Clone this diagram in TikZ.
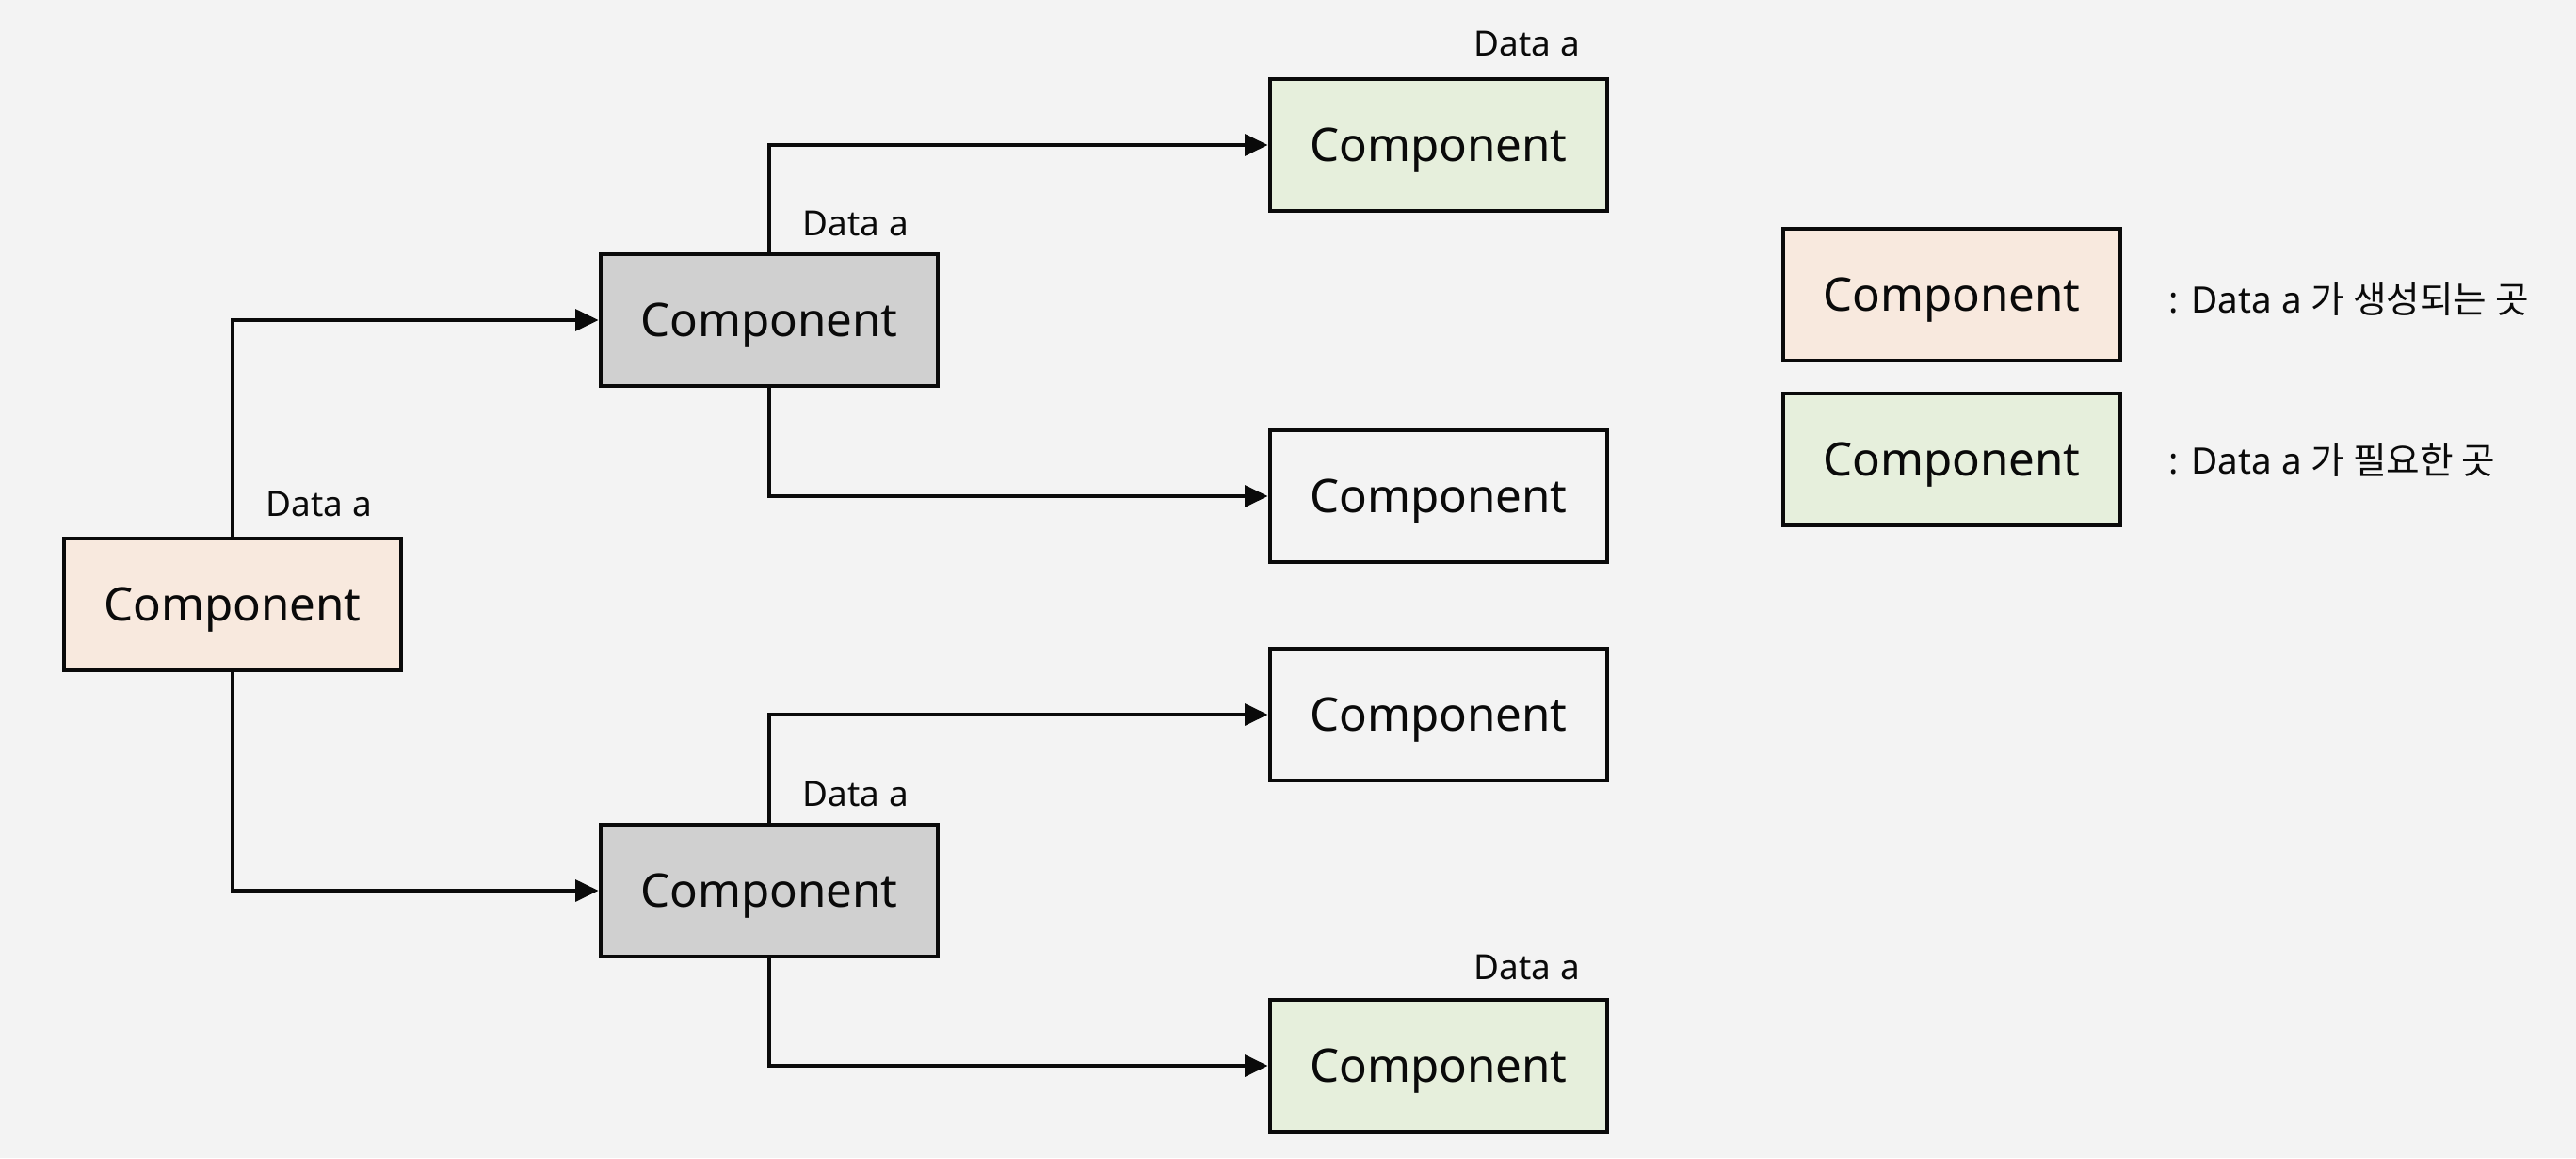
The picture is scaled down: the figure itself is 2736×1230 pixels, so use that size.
\documentclass[tikz,border=0pt]{standalone}
\usepackage{fontspec}
\setmainfont{Noto Sans}
\newfontfamily\krfont{Noto Sans CJK KR}
\usetikzlibrary{arrows.meta}
\definecolor{bgc}{HTML}{F3F3F3}
\definecolor{peach}{HTML}{F8E9DE}
\definecolor{leaf}{HTML}{E6EFDC}
\definecolor{greybox}{HTML}{D0D0D0}
\definecolor{ink}{HTML}{0A0A0A}
\tikzset{
  comp/.style={draw=ink, line width=1.3pt, minimum width=3.58cm, minimum height=1.40cm,
    inner sep=0pt, text height=10pt, text depth=0pt,
    font=\fontsize{14}{16}\selectfont, text=ink},
  source/.style={comp, fill=peach},
  target/.style={comp, fill=leaf},
  relay/.style={comp, fill=greybox},
  plain/.style={comp, fill=bgc},
  datalbl/.style={anchor=base west, inner sep=0pt, font=\fontsize{10.5}{12}\selectfont, text=ink},
  legendlbl/.style={anchor=base west, inner sep=0pt, font=\fontsize{11}{13}\selectfont, text=ink},
  flow/.style={draw=ink, line width=1.1pt, -{Triangle[length=7pt,width=6.5pt]}},
}
\begin{document}
\begin{tikzpicture}[x=0.01cm,y=-0.01cm]
\fill[bgc] (0,0) rectangle (2736,1230);
\useasboundingbox (0,0) rectangle (2736,1230);

% nodes
\node[source] (root) at (247,642) {Component};
\node[relay]  (g1)   at (817,340) {Component};
\node[relay]  (g2)   at (817,946) {Component};
\node[target] (t1)   at (1528,154) {Component};
\node[plain]  (w2)   at (1528,527) {Component};
\node[plain]  (w3)   at (1528,759) {Component};
\node[target] (t4)   at (1528,1132) {Component};

% legend
\node[source] (lg1) at (2073,313) {Component};
\node[target] (lg2) at (2073,488) {Component};
\node[legendlbl] (lt1) at (2303,332) {: Data a {\krfont 가 생성되는 곳}};
\node[legendlbl] (lt2) at (2303,503) {: Data a {\krfont 가 필요한 곳}};

% data labels
\node[datalbl] (d0) at (282,548) {Data a};
\node[datalbl] (d1) at (852,250) {Data a};
\node[datalbl] (d2) at (852,856) {Data a};
\node[datalbl] (d3) at (1565,60) {Data a};
\node[datalbl] (d4) at (1565,1040) {Data a};

% connectors
\draw[flow] (root.north) |- (g1.west);
\draw[flow] (root.south) |- (g2.west);
\draw[flow] (g1.north) |- (t1.west);
\draw[flow] (g1.south) |- (w2.west);
\draw[flow] (g2.north) |- (w3.west);
\draw[flow] (g2.south) |- (t4.west);
\end{tikzpicture}
\end{document}
